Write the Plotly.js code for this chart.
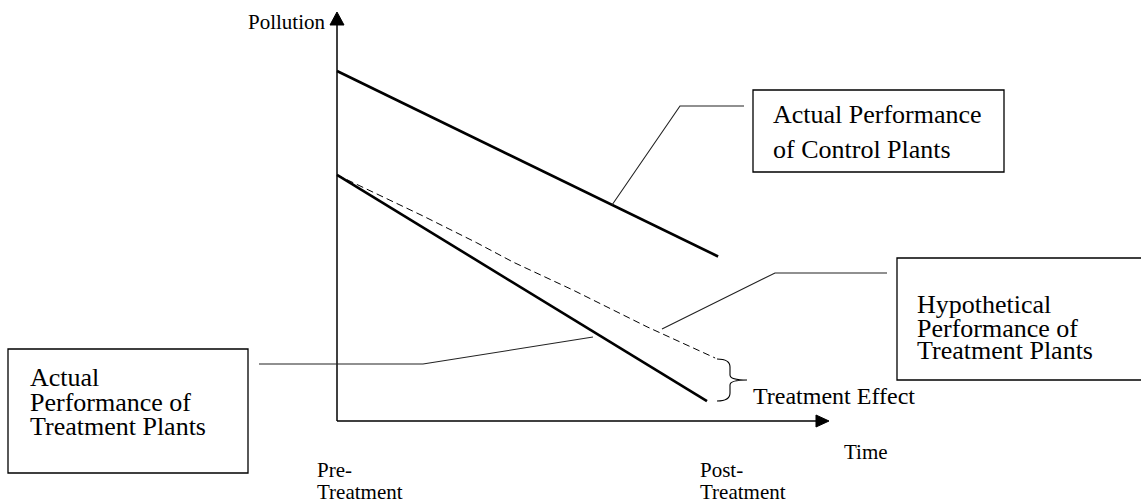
<!DOCTYPE html>
<html>
<head>
<meta charset="utf-8">
<script src="https://cdn.plot.ly/plotly-3.0.1.min.js"></script>
<style>html,body{margin:0;padding:0;background:#fff}#chart{width:1141px;height:503px}</style>
</head>
<body>
<div id="chart"></div>
<script>
// ---- Data (time: 0 = pre-treatment, 1 = post-treatment; pollution in arbitrary units) ----
const controlTime = [0, 1.03];
const controlPollution = [100, 47];

const treatmentTime = [0, 1.0];
const treatmentPollution = [70.3, 5.7];

const hypotheticalTime = [0, 0.232, 0.378, 0.476, 0.638, 0.838, 1.022];
const hypotheticalPollution = [70.3, 58.6, 50.9, 45.4, 37.4, 26.9, 18.0];

const axisLabels = { y: "Pollution", x: "Time" };
const periodLabels = [["Pre-", "Treatment"], ["Post-", "Treatment"]];
const seriesLabels = {
  control: ["Actual Performance", "of Control Plants"],
  hypothetical: ["Hypothetical", "Performance of", "Treatment Plants"],
  treatment: ["Actual", "Performance of", "Treatment Plants"],
  effect: "Treatment Effect"
};

// ---- Layout helpers (pixel -> paper) ----
const W = 1141, H = 503;
const px = x => x / W;
const py = y => 1 - y / H;
const FONT = "Liberation Serif, Times New Roman, serif";

const traces = [
  { x: controlTime, y: controlPollution, mode: "lines", line: { color: "#000", width: 2.6 }, hoverinfo: "skip" },
  { x: treatmentTime, y: treatmentPollution, mode: "lines", line: { color: "#000", width: 2.6 }, hoverinfo: "skip" },
  { x: hypotheticalTime, y: hypotheticalPollution, mode: "lines", line: { color: "#000", width: 1, dash: "7px,4px" }, hoverinfo: "skip" }
];

function ppath(points, closed, fill, color, width) {
  let d = points.map((p, i) => (i ? "L" : "M") + px(p[0]).toFixed(5) + "," + py(p[1]).toFixed(5)).join(" ");
  if (closed) d += " Z";
  return { type: "path", xref: "paper", yref: "paper", path: d, fillcolor: fill || "rgba(0,0,0,0)",
    line: { color: color, width: width } };
}
function rect(x0, y0, x1, y1) {
  return { type: "rect", xref: "paper", yref: "paper", x0: px(x0), y0: py(y0), x1: px(x1), y1: py(y1),
    line: { color: "#000", width: 1.3 }, fillcolor: "rgba(0,0,0,0)" };
}

const shapes = [
  // axes
  { type: "line", xref: "x", yref: "y", x0: 0, y0: 0, x1: 0, y1: (421 - 24) / 3.5, line: { color: "#000", width: 1.5 } },
  { type: "line", xref: "x", yref: "y", x0: 0, y0: 0, x1: (818 - 337) / 370, y1: 0, line: { color: "#000", width: 1.5 } },
  ppath([[337, 12], [344, 25], [330, 25]], true, "#000", "#000", 1),
  ppath([[829, 421], [816, 415], [816, 427]], true, "#000", "#000", 1),
  // boxes
  rect(753, 90, 1004, 172),
  ppath([[1145, 258], [897, 258], [897, 380], [1145, 380]], false, null, "#000", 1.3),
  rect(8, 349, 248, 473),
  // leader lines
  ppath([[744, 106], [680, 106], [612, 205]], false, null, "#222", 1.1),
  ppath([[887, 273], [775, 273], [662, 329]], false, null, "#222", 1.1),
  ppath([[259, 364], [423, 364], [593, 337]], false, null, "#222", 1.1),
  // brace
  { type: "path", xref: "paper", yref: "paper",
    path: "M" + px(717) + "," + py(359) + " Q" + px(730) + "," + py(359) + " " + px(730) + "," + py(367) +
          " L" + px(730) + "," + py(375) + " Q" + px(730) + "," + py(380) + " " + px(747) + "," + py(380) +
          " Q" + px(730) + "," + py(380) + " " + px(730) + "," + py(385) +
          " L" + px(730) + "," + py(393) + " Q" + px(730) + "," + py(401) + " " + px(717) + "," + py(401),
    line: { color: "#000", width: 1.1 } }
];

function label(text, x, baseline, size) {
  return { text: text, xref: "paper", yref: "paper", x: px(x), y: py(baseline - size * 0.3),
    xanchor: "left", yanchor: "middle", showarrow: false, align: "left",
    font: { family: FONT, size: size, color: "#000" } };
}

const annotations = [
  label(axisLabels.y, 246, 28, 21),
  label(axisLabels.x, 842, 458, 21),
  label(periodLabels[0][0], 315, 476, 21),
  label(periodLabels[0][1], 315, 498, 21),
  label(periodLabels[1][0], 698, 476, 21),
  label(periodLabels[1][1], 698, 498, 21),
  label(seriesLabels.control[0], 771, 122, 26),
  label(seriesLabels.control[1], 771, 157, 26),
  label(seriesLabels.hypothetical[0], 915, 312, 26),
  label(seriesLabels.hypothetical[1], 915, 336, 26),
  label(seriesLabels.hypothetical[2], 915, 358, 26),
  label(seriesLabels.treatment[0], 28, 385, 26),
  label(seriesLabels.treatment[1], 28, 410, 26),
  label(seriesLabels.treatment[2], 28, 434, 26),
  label(seriesLabels.effect, 751, 403, 24)
];

const layout = {
  width: W, height: H,
  margin: { l: 0, r: 0, t: 0, b: 0, pad: 0 },
  paper_bgcolor: "#fff", plot_bgcolor: "#fff",
  showlegend: false,
  xaxis: { range: [-337 / 370, (W - 337) / 370], visible: false, fixedrange: true },
  yaxis: { range: [(421 - H) / 3.5, 421 / 3.5], visible: false, fixedrange: true },
  shapes: shapes,
  annotations: annotations
};

Plotly.newPlot("chart", traces, layout, { staticPlot: true, displayModeBar: false });
</script>
</body>
</html>
